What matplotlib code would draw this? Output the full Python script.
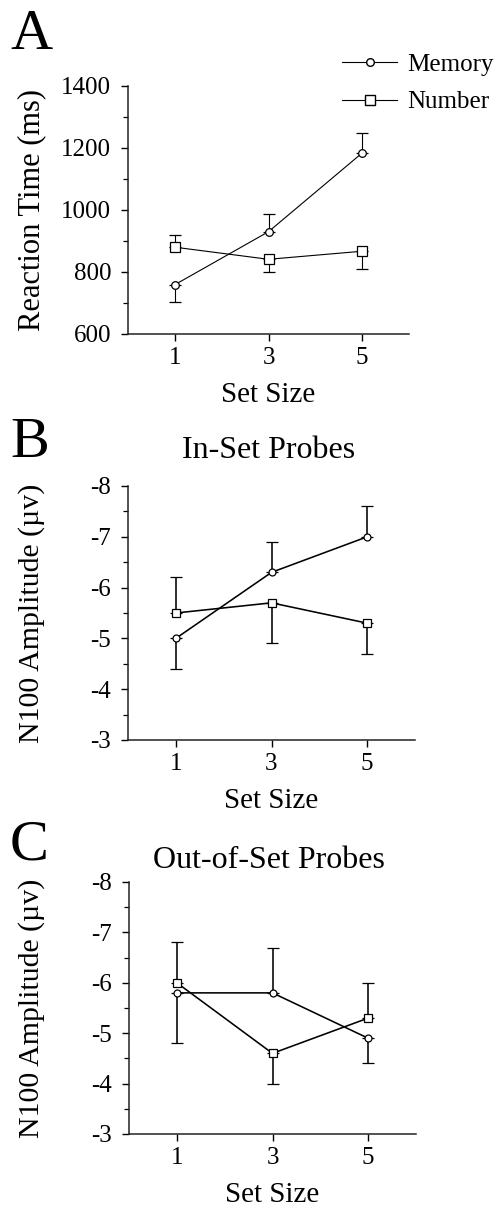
import matplotlib
matplotlib.use("Agg")
import matplotlib.pyplot as plt
from matplotlib.lines import Line2D
import numpy as np

plt.rcParams['font.family'] = ['Liberation Serif', 'DejaVu Serif']
plt.rcParams['axes.unicode_minus'] = False

set_size = [1, 3, 5]

# panel A: reaction time (ms); err = bar end minus mean
rt_memory = [759, 930, 1184]
rt_memory_err = [-55, 57, 64]
rt_number = [880, 841, 867]
rt_number_err = [40, -42, -56]

# panel B: in-set probes, N100 amplitude
in_memory = [-5.0, -6.3, -7.0]
in_memory_err = [0.6, -0.6, -0.6]
in_number = [-5.5, -5.7, -5.3]
in_number_err = [-0.7, 0.8, 0.6]

# panel C: out-of-set probes
out_memory = [-5.8, -5.8, -4.9]
out_memory_err = [1.0, -0.9, 0.5]
out_number = [-6.0, -4.6, -5.3]
out_number_err = [-0.8, 0.6, -0.7]

W, H = 498, 1208
fig = plt.figure(figsize=(W / 100, H / 100), dpi=100)


def px_axes(left, top, right, bottom):
    ax = fig.add_axes([left / W, 1 - bottom / H, (right - left) / W, (bottom - top) / H])
    ax._px = (left, top, right, bottom)
    return ax


def yerr_of(err):
    e = np.array(err, dtype=float)
    return [np.clip(-e, 0, None), np.clip(e, 0, None)]


def draw(ax, mem, mem_err, num, num_err, lw, ms):
    ax.errorbar(set_size, mem, yerr=yerr_of(mem_err), color='black', lw=lw,
                marker='o', ms=ms, mfc='white', mec='black', mew=0.9,
                capsize=4, elinewidth=lw, capthick=lw)
    ax.errorbar(set_size, num, yerr=yerr_of(num_err), color='black', lw=lw,
                marker='s', ms=ms + 1.2, mfc='white', mec='black', mew=0.9,
                capsize=4, elinewidth=lw, capthick=lw)
    ax.set_xlim(0, 6)
    ax.set_xticks(set_size)
    ax.spines['top'].set_visible(False)
    ax.spines['right'].set_visible(False)
    for s in ('left', 'bottom'):
        ax.spines[s].set_linewidth(1.1)
        ax.spines[s].set_color('#222222')
    ax.tick_params(axis='both', which='major', direction='out', length=5, width=1.0,
                   labelsize=18)
    ax.tick_params(axis='x', pad=4)
    ax.tick_params(axis='y', pad=7)
    ax.tick_params(axis='y', which='minor', direction='out', length=3.5, width=0.9)
    left, top, right, bottom = ax._px
    ax.set_xlabel('Set Size', fontsize=21, va='baseline')
    ax.xaxis.set_label_coords(0.5, -68 / (bottom - top))


def ylab(ax, text, size):
    left, top, right, bottom = ax._px
    ax.set_ylabel(text, fontsize=size, va='center')
    ax.yaxis.set_label_coords((32 - left) / (right - left), 0.5)


def ptext(x, y, s, size, **kw):
    fig.text(x / W, 1 - y / H, s, fontsize=size, va='baseline', **kw)


# A
axA = px_axes(128, 86, 409, 334)
draw(axA, rt_memory, rt_memory_err, rt_number, rt_number_err, 0.8, 5.5)
axA.set_ylim(600, 1400)
axA.set_yticks(np.arange(600, 1401, 200))
axA.set_yticks(np.arange(700, 1400, 200), minor=True)
ylab(axA, 'Reaction Time (ms)', 22)

# B
axB = px_axes(128, 486, 415, 740)
draw(axB, in_memory, in_memory_err, in_number, in_number_err, 1.15, 5)
axB.set_ylim(-3, -8)
axB.set_yticks(np.arange(-8, -2, 1))
axB.set_yticks(np.arange(-7.5, -3, 1), minor=True)
ylab(axB, 'N100 Amplitude (\u00b5v)', 21.5)

# C
axC = px_axes(129, 882, 416, 1134)
draw(axC, out_memory, out_memory_err, out_number, out_number_err, 1.15, 5)
axC.set_ylim(-3, -8)
axC.set_yticks(np.arange(-8, -2, 1))
axC.set_yticks(np.arange(-7.5, -3, 1), minor=True)
ylab(axC, 'N100 Amplitude (\u00b5v)', 21.5)

ptext(269, 458, 'In-Set Probes', 23, ha='center')
ptext(269, 868, 'Out-of-Set Probes', 23, ha='center')

ptext(10, 49, 'A', 42, ha='left')
ptext(10, 457, 'B', 42, ha='left')
ptext(10, 859, 'C', 42, ha='left')

handles = [Line2D([], [], color='black', lw=0.8, marker='o', ms=5.5, mfc='white', mec='black'),
           Line2D([], [], color='black', lw=0.8, marker='s', ms=6.5, mfc='white', mec='black')]
fig.legend(handles, ['Memory', 'Number'], loc='upper left',
           bbox_to_anchor=(342 / W, 1 - 53 / H), frameon=False, fontsize=18,
           handlelength=2.2, handletextpad=0.4, labelspacing=0.62, borderpad=0,
           borderaxespad=0)

fig.savefig('out.png', dpi=100, facecolor='white')
